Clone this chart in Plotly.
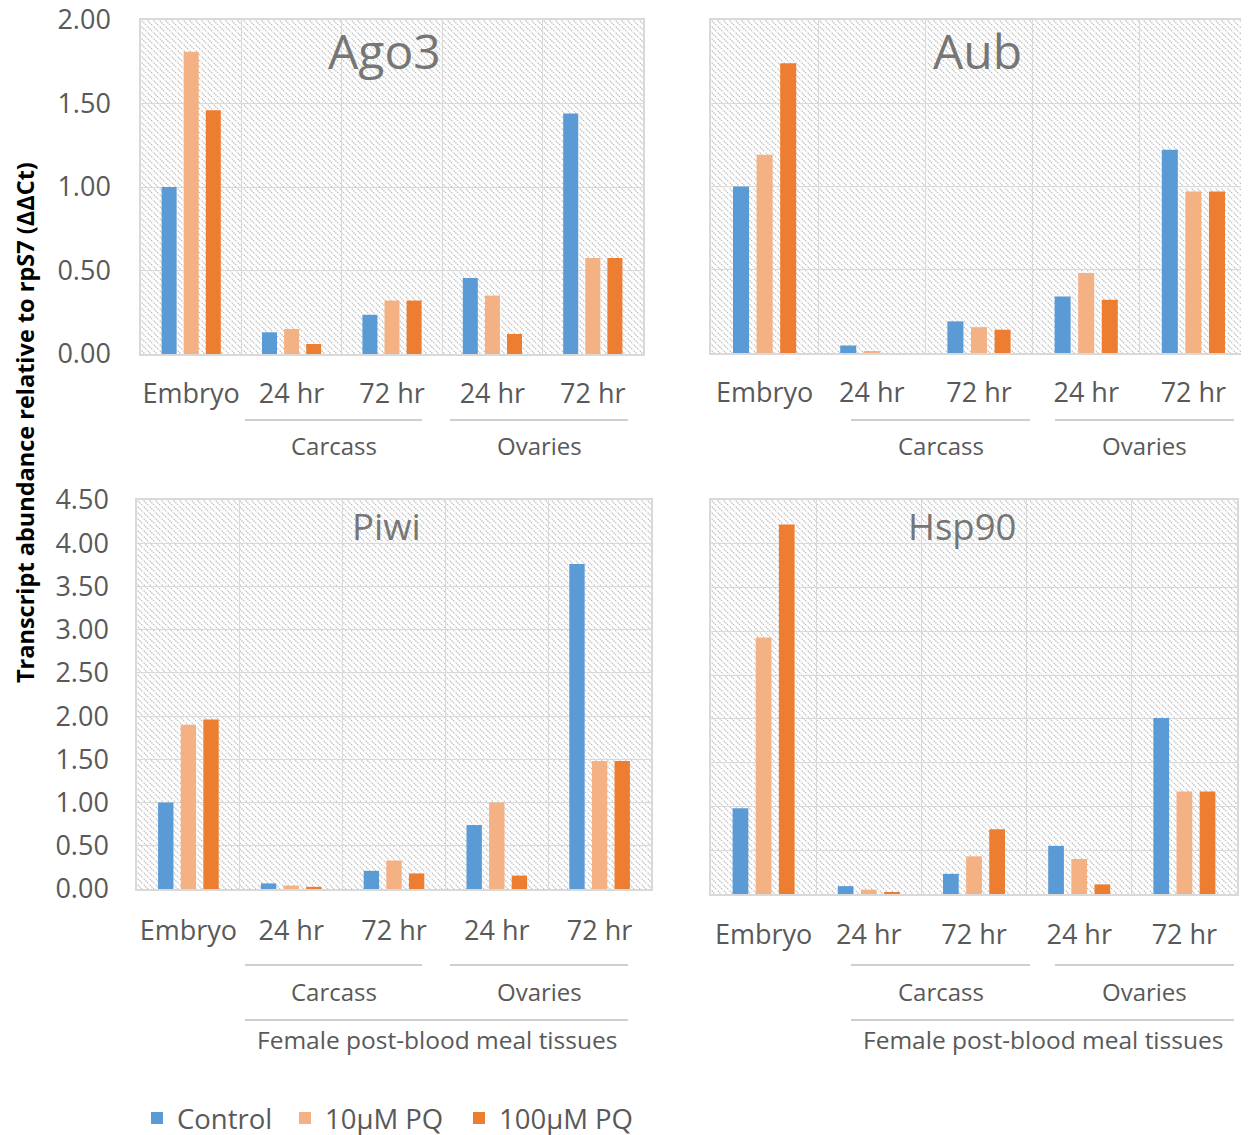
import base64
import plotly.graph_objects as go

W, H = 1249, 1135
OFF = 8  # page body margin offset

# ---------------- data ----------------
categories = ["Embryo", "Carcass 24 hr", "Carcass 72 hr", "Ovaries 24 hr", "Ovaries 72 hr"]
tick_labels = ["Embryo", "24 hr", "72 hr", "24 hr", "72 hr"]
series_names = ["Control", "10µM PQ", "100µM PQ"]
series_colors = ["#5B9BD5", "#F4B183", "#ED7D31"]

ago3_control = [1.00, 0.13, 0.235, 0.455, 1.44]
ago3_10uM = [1.81, 0.15, 0.32, 0.35, 0.575]
ago3_100uM = [1.46, 0.06, 0.32, 0.12, 0.575]

aub_control = [1.00, 0.045, 0.19, 0.34, 1.22]
aub_10uM = [1.19, 0.01, 0.155, 0.48, 0.97]
aub_100uM = [1.74, 0.0, 0.14, 0.32, 0.97]

piwi_control = [1.00, 0.065, 0.21, 0.74, 3.76]
piwi_10uM = [1.90, 0.04, 0.33, 1.00, 1.48]
piwi_100uM = [1.96, 0.025, 0.18, 0.155, 1.48]

hsp90_control = [0.98, 0.09, 0.23, 0.55, 2.01]
hsp90_10uM = [2.93, 0.05, 0.43, 0.40, 1.17]
hsp90_100uM = [4.22, 0.02, 0.74, 0.11, 1.17]

panel_titles = ["Ago3", "Aub", "Piwi", "Hsp90"]
y_ticks_top = [0, 0.5, 1.0, 1.5, 2.0]
y_ticks_bottom = [0, 0.5, 1.0, 1.5, 2.0, 2.5, 3.0, 3.5, 4.0, 4.5]
group_labels = ["Carcass", "Ovaries"]
super_label = "Female post-blood meal tissues"
y_title = "Transcript abundance relative to rpS7 (ΔΔCt)"

panels = [
    (ago3_control, ago3_10uM, ago3_100uM),
    (aub_control, aub_10uM, aub_100uM),
    (piwi_control, piwi_10uM, piwi_100uM),
    (hsp90_control, hsp90_10uM, hsp90_100uM),
]

# ---------------- layout geometry (screen pixels) ----------------
boxes = [
    (141, 643, 20, 354),
    (711, 1247, 20, 353),
    (137, 651, 500, 889),
    (711, 1237, 500, 894),
]
y_ranges = [[0, 2.0], [0, 2.0], [0, 4.5], [0, 4.5]]
legend_x = [137, 285, 459]

def px(x):
    return (x - OFF) / W

def py(y):
    return 1 - (y - OFF) / H

GRID = "#d9d9d9"
TXT = "#595959"
FONT = "Open Sans"
legend_ids = ["legend", "legend2", "legend3"]

fig = go.Figure()

for i, vals in enumerate(panels):
    ax = "" if i == 0 else str(i + 1)
    for s, (name, col) in enumerate(zip(series_names, series_colors)):
        fig.add_trace(go.Bar(
            x=categories, y=vals[s], name=name,
            marker=dict(color=col, line=dict(width=0)),
            xaxis="x" + ax, yaxis="y" + ax,
            showlegend=(i == 0), legend=legend_ids[s],
        ))

layout = dict(
    width=W, height=H,
    margin=dict(l=0, r=0, t=0, b=0, autoexpand=False),
    paper_bgcolor="white",
    plot_bgcolor="rgba(0,0,0,0)",
    barmode="group",
    bargap=0.34,
    bargroupgap=0.32,
    font=dict(family=FONT, color=TXT),
    showlegend=True,
)
for lid, lx in zip(legend_ids, legend_x):
    layout[lid] = dict(orientation="h", x=px(lx), y=py(1118), xanchor="left", yanchor="middle",
                       font=dict(size=27.5, color=TXT, family=FONT), itemwidth=30,
                       bgcolor="rgba(0,0,0,0)")

def hatch_src(w, h):
    svg = (f'<svg xmlns="http://www.w3.org/2000/svg" width="{w}" height="{h}" '
           f'viewBox="0 0 {w} {h}" preserveAspectRatio="none">'
           '<defs><pattern id="p" width="6" height="6" patternUnits="userSpaceOnUse">'
           '<path d="M-1,-1 L7,7 M-1,5 L1,7 M5,-1 L7,1" stroke="#bbbbbb" '
           'stroke-width="1.2" stroke-dasharray="1.5,0.9"/></pattern></defs>'
           '<rect width="100%" height="100%" fill="white"/>'
           '<rect width="100%" height="100%" fill="url(#p)"/></svg>')
    return "data:image/svg+xml;base64," + base64.b64encode(svg.encode()).decode()

images = []
annotations = []
shapes = []

xlabel_std = [15, 15, 17, 16]
ylabel_std = [23, 23, 21, 21]

for i, (l, r, t, b) in enumerate(boxes):
    ax = "" if i == 0 else str(i + 1)
    left_panel = i in (0, 2)
    layout["xaxis" + ax] = dict(
        domain=[px(l), px(r)], anchor="y" + ax,
        type="category", categoryorder="array", categoryarray=categories,
        tickmode="array", tickvals=categories, ticktext=tick_labels,
        tickson="boundaries", showgrid=True, gridcolor=GRID, gridwidth=1.3,
        showline=True, linecolor=GRID, linewidth=1.5, mirror=True,
        ticks="", ticklabelstandoff=xlabel_std[i],
        tickangle=0, ticklabeloverflow="allow",
        tickfont=dict(size=27, color=TXT, family=FONT),
        range=[-0.5, 4.5], fixedrange=True, zeroline=False, automargin=False,
    )
    layout["yaxis" + ax] = dict(
        domain=[py(b), py(t)], anchor="x" + ax,
        range=y_ranges[i],
        tickmode="array",
        tickvals=y_ticks_top if i < 2 else y_ticks_bottom,
        tickformat=".2f",
        showticklabels=left_panel,
        showgrid=True, gridcolor=GRID, gridwidth=1.3,
        showline=True, linecolor=GRID, linewidth=1.5, mirror=True,
        ticks="outside", ticklen=ylabel_std[i], tickcolor="rgba(0,0,0,0)",
        ticklabeloverflow="allow",
        tickfont=dict(size=27, color=TXT, family=FONT),
        zeroline=False, fixedrange=True, automargin=False,
    )
    images.append(dict(
        source=hatch_src(r - l, b - t), xref="paper", yref="paper",
        x=px(l), y=py(t), sizex=px(r) - px(l), sizey=py(t) - py(b),
        xanchor="left", yanchor="top", sizing="stretch", layer="below",
    ))

title_pos = [(384, 50, 48), (978, 50, 48), (386, 526, 36.5), (962, 526, 36.5)]
for name, (x, y, sz) in zip(panel_titles, title_pos):
    annotations.append(dict(text=name, x=px(x), y=py(y), xref="paper", yref="paper",
                            showarrow=False, xanchor="center", yanchor="middle",
                            font=dict(size=sz, color="#767676", family=FONT)))

group_rows = [
    (245, 422, 450, 628, 420, 446),
    (851, 1030, 1055, 1234, 420, 446),
    (245, 422, 450, 628, 965, 991),
    (851, 1030, 1055, 1234, 965, 991),
]
for (c0, c1, o0, o1, ly, ty) in group_rows:
    for (a0, a1), lab in zip([(c0, c1), (o0, o1)], group_labels):
        shapes.append(dict(type="line", xref="paper", yref="paper",
                           x0=px(a0), x1=px(a1), y0=py(ly), y1=py(ly),
                           line=dict(color="#bfbfbf", width=1.5)))
        annotations.append(dict(text=lab, x=px((a0 + a1) / 2), y=py(ty),
                                xref="paper", yref="paper", showarrow=False,
                                xanchor="center", yanchor="middle",
                                font=dict(size=24, color=TXT, family=FONT)))

for (x0, x1) in [(245, 628), (851, 1234)]:
    shapes.append(dict(type="line", xref="paper", yref="paper",
                       x0=px(x0), x1=px(x1), y0=py(1020), y1=py(1020),
                       line=dict(color="#bfbfbf", width=1.5)))
    annotations.append(dict(text=super_label, x=px((x0 + x1) / 2), y=py(1039),
                            xref="paper", yref="paper", showarrow=False,
                            xanchor="center", yanchor="middle",
                            font=dict(size=24.5, color=TXT, family=FONT)))

annotations.append(dict(text="<b>" + y_title + "</b>", x=px(25), y=py(423),
                        xref="paper", yref="paper", showarrow=False, textangle=-90,
                        xanchor="center", yanchor="middle",
                        font=dict(size=23.5, color="black", family=FONT)))

layout["images"] = images
layout["annotations"] = annotations
layout["shapes"] = shapes
fig.update_layout(**layout)

fig.write_html("out.html")
